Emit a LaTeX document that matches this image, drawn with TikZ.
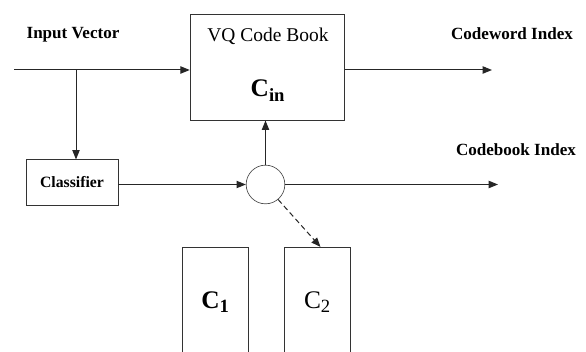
\documentclass[tikz,border=0pt]{standalone}
\usepackage{fontspec}
\setmainfont{Liberation Serif}
\usepackage{tikz}
\usetikzlibrary{arrows.meta,positioning,calc}

\begin{document}
\begin{tikzpicture}[
    x=0.75pt, y=-0.75pt,
    every node/.style={font=\fontsize{12}{14}\selectfont},
    box/.style={draw=black!80, line width=0.6pt, rectangle, inner sep=0pt},
    lbl/.style={font=\fontsize{12.8}{14}\selectfont\bfseries, inner sep=0pt},
    junction/.style={draw=black!70, line width=0.5pt, circle, inner sep=0pt,
                minimum size=29pt},
    arrow/.style={-{Triangle[length=7pt,width=5.5pt]}, line width=0.75pt, draw=black!85},
    dasharrow/.style={-{Triangle[length=7pt,width=5.5pt]}, line width=0.75pt,
                dashed, dash pattern=on 4pt off 2.5pt, draw=black!85}
  ]
    \useasboundingbox (0,0) rectangle (586,352);

    % Boxes
    \node[box, minimum width=116pt, minimum height=79pt] (vq) at (267.5, 67.5) {};
    \node[font=\fontsize{14.6}{16}\selectfont, inner sep=0pt] (vqtitle) at (268, 36) {VQ Code Book};
    \node[font=\fontsize{19}{20}\selectfont\bfseries, inner sep=0pt] (cin) at (268, 91) {C\textsubscript{\fontsize{14}{16}\selectfont in}};
    \node[box, minimum width=69pt, minimum height=34pt] (classifier) at (72, 182.5)
      {\fontsize{11.8}{13}\selectfont\bfseries Classifier};
    \node[junction] (sel) at (265.5, 184.5) {};
    \node[box, minimum width=49pt, minimum height=82pt] (cone) at (215.5, 302) {};
    \node[box, minimum width=49pt, minimum height=82pt] (ctwo) at (317.5, 302) {};
    \node[font=\fontsize{19}{20}\selectfont\bfseries, inner sep=0pt] at (cone.center) {C\textsubscript{\fontsize{14}{16}\selectfont 1}};
    \node[font=\fontsize{19}{20}\selectfont, inner sep=0pt] at (ctwo.center) {C\textsubscript{\fontsize{14}{16}\selectfont 2}};

    % Labels
    \node[lbl] (inlbl) at (73, 35) {Input Vector};
    \node[lbl] (cwlbl) at (512, 34) {Codeword Index};
    \node[lbl] (cblbl) at (516, 150) {Codebook Index};

    % Free ends
    \coordinate (src) at (14, 70);
    \coordinate (tap) at (76, 70);
    \coordinate (cwend) at (492, 70);
    \coordinate (cbend) at (498, 184.5);

    % Arrows
    \draw[arrow] (src) -- (vq.west |- src);
    \draw[arrow] (tap) -- (classifier.north -| tap);
    \draw[arrow] (vq.east |- cwend) -- (cwend);
    \draw[arrow] (classifier.east |- sel) -- (sel.west);
    \draw[arrow] (sel.north) -- (vq.south -| sel);
    \draw[arrow] (sel.east) -- (cbend);
    \draw[dasharrow] (sel.-50) -- ($(ctwo.north)+(3,0)$);
\end{tikzpicture}
\end{document}
